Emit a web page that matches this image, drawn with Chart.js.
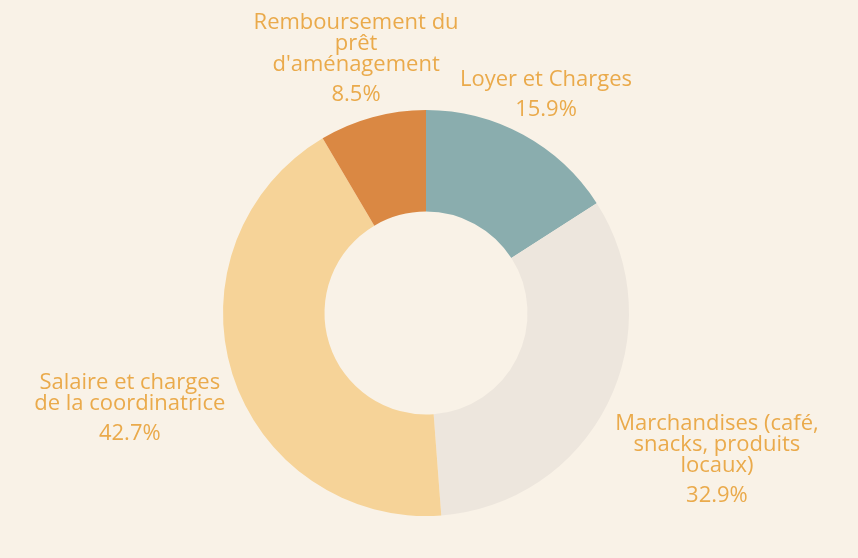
<!DOCTYPE html>
<html>
<head>
<meta charset="utf-8">
<script src="https://cdn.jsdelivr.net/npm/chart.js@4/dist/chart.umd.min.js"></script>
<style>
  html, body { margin: 0; padding: 0; background: #F9F2E7; }
  #wrap { width: 858px; height: 558px; position: relative; }
</style>
</head>
<body>
<div id="wrap"><canvas id="c" width="858" height="558"></canvas></div>
<script>
// Categories (already split into display lines)
const categories = [
  ["Loyer et Charges"],
  ["Marchandises (café,", "snacks, produits", "locaux)"],
  ["Salaire et charges", "de la coordinatrice"],
  ["Remboursement du", "prêt", "d'aménagement"]
];
// Shares (percent of budget)
const shares = [15.9, 32.9, 42.7, 8.5];
const sliceColors = ["#8AADAE", "#EDE6DD", "#F6D398", "#DA8843"];

const TEXT_COLOR = "#EAAA4B";
const FONT = "22px 'Open Sans', 'Noto Sans', sans-serif";
const LINE_H = 21;
const PCT_GAP = 30;
const CAP = 16;
const CLEAR = 11;

const outsideLabels = {
  id: 'outsideLabels',
  afterDatasetsDraw(chart) {
    const ctx = chart.ctx;
    const meta = chart.getDatasetMeta(0);
    const data = chart.data.datasets[0].data;
    const total = data.reduce((a, b) => a + b, 0);
    ctx.save();
    ctx.font = FONT;
    ctx.fillStyle = TEXT_COLOR;
    ctx.textAlign = 'center';
    ctx.textBaseline = 'alphabetic';
    meta.data.forEach((arc, i) => {
      const p = arc.getProps(['x', 'y', 'startAngle', 'endAngle', 'outerRadius'], true);
      const mid = (p.startAngle + p.endAngle) / 2;
      const ux = Math.cos(mid), uy = Math.sin(mid);
      const lines = chart.data.labels[i].slice();
      lines.push((data[i] / total * 100).toFixed(1) + '%');
      // baselines relative to first baseline
      const bases = lines.map((_, k) => k < lines.length - 1 ? k * LINE_H : (lines.length - 2) * LINE_H + PCT_GAP);
      const top = -CAP, bottom = bases[bases.length - 1];
      const cyOff = (top + bottom) / 2;
      const widths = lines.map(t => ctx.measureText(t).width);
      const need = p.outerRadius + CLEAR;
      let d = p.outerRadius;
      const minDist = (cx, cy) => {
        let m = Infinity;
        lines.forEach((t, k) => {
          const by = cy - cyOff + bases[k];
          const x0 = cx - widths[k] / 2, x1 = cx + widths[k] / 2;
          const y0 = by - CAP, y1 = by + 2;
          const nx = Math.max(x0, Math.min(0, x1));
          const ny = Math.max(y0, Math.min(0, y1));
          m = Math.min(m, Math.hypot(nx, ny));
        });
        return m;
      };
      while (minDist(d * ux, d * uy) < need && d < 1000) d += 0.5;
      const cx = p.x + d * ux, cy = p.y + d * uy;
      lines.forEach((t, k) => ctx.fillText(t, cx, cy - cyOff + bases[k]));
    });
    ctx.restore();
  }
};

new Chart(document.getElementById('c'), {
  type: 'doughnut',
  data: {
    labels: categories,
    datasets: [{
      data: shares,
      backgroundColor: sliceColors,
      borderWidth: 0,
      hoverOffset: 0
    }]
  },
  options: {
    responsive: false,
    animation: false,
    cutout: '50%',
    layout: { padding: { top: 110, bottom: 42, left: 223, right: 229 } },
    plugins: { legend: { display: false }, tooltip: { enabled: false } }
  },
  plugins: [outsideLabels]
});
</script>
</body>
</html>
